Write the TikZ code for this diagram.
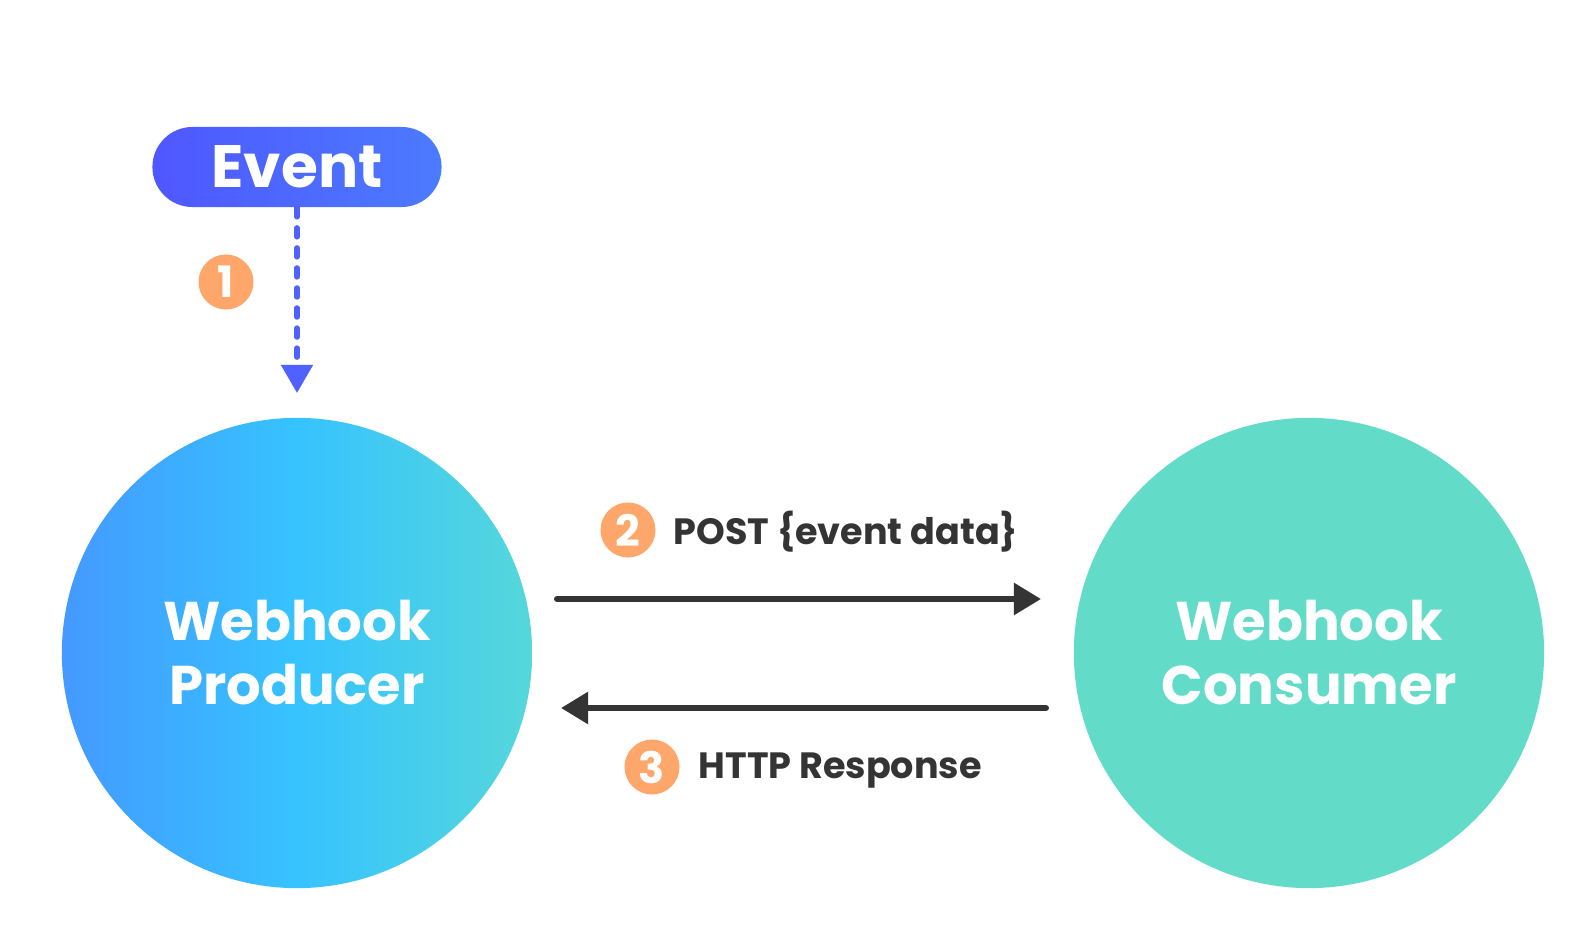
\documentclass[tikz,border=0pt]{standalone}
\usepackage{fontspec}
\setmainfont{Poppins}
\usepackage{tikz}
\usetikzlibrary{arrows.meta}
\definecolor{evleft}{HTML}{4F57FF}
\definecolor{evright}{HTML}{4B7BFF}
\definecolor{prodleft}{HTML}{4499FF}
\definecolor{prodmid}{HTML}{36C3FF}
\definecolor{prodright}{HTML}{55D7DA}
\definecolor{consfill}{HTML}{62DCC8}
\definecolor{badgeorange}{HTML}{FFA66B}
\definecolor{darkline}{HTML}{343434}
\definecolor{dashblue}{HTML}{4F62FF}

\begin{document}
\begin{tikzpicture}[x=0.01cm,y=-0.01cm,
  party/.style={circle,minimum size=4.7cm,inner sep=0pt,text=white,align=center,
    font=\fontsize{15.5}{18.2}\selectfont\bfseries},
  badge/.style={circle,fill=badgeorange,text=white,minimum size=0.55cm,inner sep=0pt,
    font=\fontsize{12.3}{12.3}\selectfont\bfseries},
  msgtext/.style={anchor=base west,inner sep=0pt,text=darkline,
    font=\fontsize{10.4}{10.4}\selectfont\bfseries},
  msg/.style={draw=darkline,line width=1.7pt,line cap=round,
    -{Triangle[length=7.7pt,width=8.8pt]}},
  trigger/.style={draw=dashblue,line width=1.5pt,line cap=round,dash pattern=on 2.6pt off 3.1pt,
    -{Triangle[length=8pt,width=8.8pt,line cap=butt]}}]
\useasboundingbox (0,0) rectangle (1587,943);
\fill[white] (0,0) rectangle (1587,943);

\node[rounded corners=0.4cm,minimum width=2.89cm,minimum height=0.8cm,inner sep=0pt,
  left color=evleft,right color=evright,text=white,
  font=\fontsize{17}{17}\selectfont\bfseries] (event) at (297,167) {Event};
\node[party,left color=prodleft,right color=prodright,middle color=prodmid] (prod) at (297,653) {Webhook\\Producer};
\node[party,fill=consfill] (cons) at (1309,653) {Webhook\\Consumer};

\coordinate (evtip) at (297,393);
\coordinate (postA) at (557,599);
\coordinate (postB) at (1041,599);
\coordinate (respA) at (1046,708);
\coordinate (respB) at (561,708);

\draw[trigger] (event.south) -- (evtip);
\draw[msg] (postA) -- (postB);
\draw[msg] (respA) -- (respB);

\node[badge] (one) at (226,282) {1};
\node[badge] (two) at (628,530) {2};
\node[badge] (three) at (652,767) {3};

\node[msgtext] (post) at (673,545) {POST \{event data\}};
\node[msgtext] (resp) at (698,778) {HTTP Response};
\end{tikzpicture}
\end{document}
